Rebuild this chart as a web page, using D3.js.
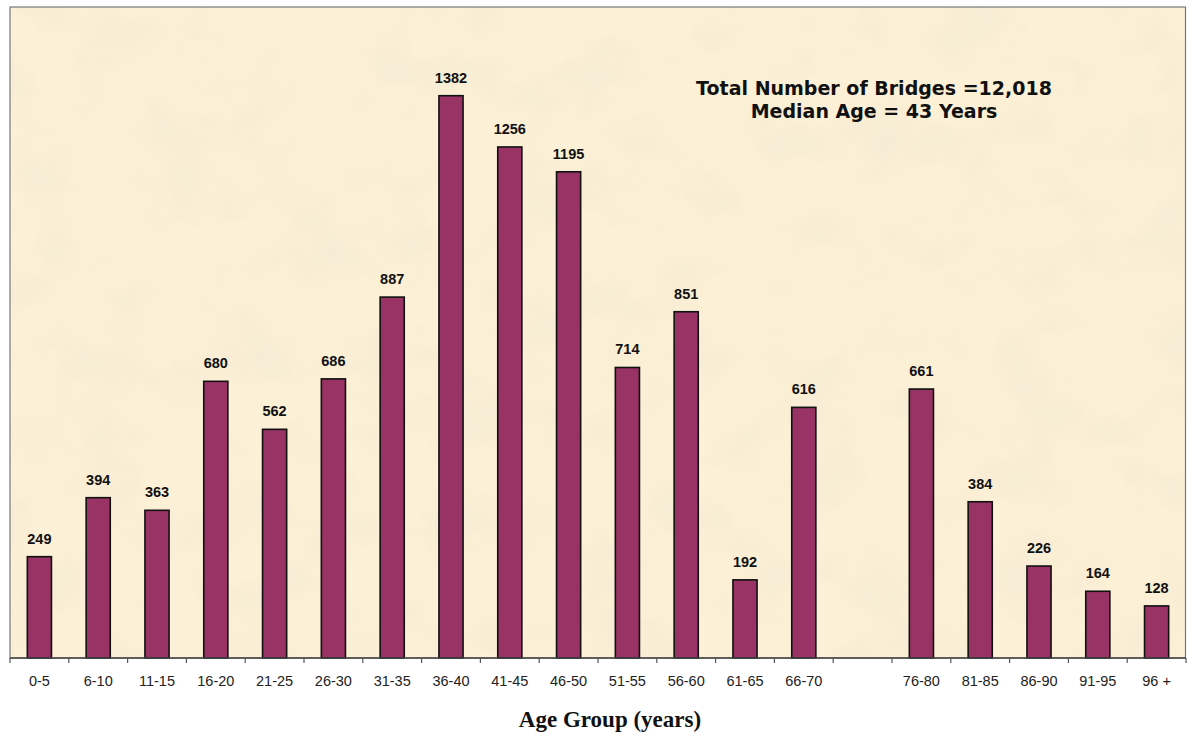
<!DOCTYPE html>
<html>
<head>
<meta charset="utf-8">
<script src="https://cdn.jsdelivr.net/npm/d3@7"></script>
<style>
  html, body { margin: 0; padding: 0; background: #fff; }
</style>
</head>
<body>
<div class="bar_chart"></div>
<script>
// age groups (the 71-75 slot is empty in the source chart)
const ageGroups = ["0-5", "6-10", "11-15", "16-20", "21-25", "26-30", "31-35", "36-40", "41-45", "46-50",
  "51-55", "56-60", "61-65", "66-70", "71-75", "76-80", "81-85", "86-90", "91-95", "96 +"];
const bridgeCounts = [249, 394, 363, 680, 562, 686, 887, 1382, 1256, 1195,
  714, 851, 192, 616, null, 661, 384, 226, 164, 128];
const hiddenLabels = ["71-75"];
const noteLines = ["Total Number of Bridges =12,018", "Median Age = 43 Years"];
const axisTitle = "Age Group (years)";

const width = 1187, height = 736;
const margin = { top: 7, right: 1, bottom: 78, left: 10 };

const svg = d3.select(".bar_chart").append("svg")
  .attr("width", width)
  .attr("height", height);

// parchment texture
const defs = svg.append("defs");
const filt = defs.append("filter").attr("id", "parchment")
  .attr("x", 0).attr("y", 0).attr("width", "100%").attr("height", "100%");
filt.append("feTurbulence")
  .attr("type", "fractalNoise")
  .attr("baseFrequency", "0.014 0.018")
  .attr("numOctaves", 4)
  .attr("seed", 7)
  .attr("result", "noise");
filt.append("feColorMatrix")
  .attr("in", "noise")
  .attr("type", "matrix")
  .attr("values", "0 0 0 0 0.92  0 0 0 0 0.83  0 0 0 0 0.66  0 0 0 2.2 -1.0")
  .attr("result", "spots");
filt.append("feComposite")
  .attr("in", "spots").attr("in2", "SourceGraphic").attr("operator", "in")
  .attr("result", "clipped");
filt.append("feMerge").selectAll("feMergeNode")
  .data(["SourceGraphic", "clipped"])
  .join("feMergeNode")
  .attr("in", d => d);

const x = d3.scaleBand()
  .domain(ageGroups)
  .range([margin.left, width - margin.right])
  .paddingInner(0.59)
  .paddingOuter(0.295);

const y = d3.scaleLinear()
  .domain([0, 1600])
  .range([height - margin.bottom, margin.top]);

// plot area
svg.append("rect")
  .attr("x", margin.left)
  .attr("y", margin.top)
  .attr("width", width - margin.left - margin.right)
  .attr("height", height - margin.top - margin.bottom)
  .attr("fill", "#fcf0d6")
  .attr("filter", "url(#parchment)");

svg.append("rect")
  .attr("x", margin.left)
  .attr("y", margin.top)
  .attr("width", width - margin.left - margin.right - 0.5)
  .attr("height", height - margin.top - margin.bottom)
  .attr("fill", "none")
  .attr("stroke", "#777")
  .attr("stroke-width", 1.2);

// bars
const data = ageGroups.map((g, i) => ({ group: g, value: bridgeCounts[i] }))
  .filter(d => d.value != null);

svg.append("g")
  .attr("fill", "#993366")
  .attr("stroke", "#111")
  .attr("stroke-width", 1.6)
  .selectAll("rect")
  .data(data)
  .join("rect")
  .attr("x", d => x(d.group))
  .attr("y", d => y(d.value))
  .attr("width", x.bandwidth())
  .attr("height", d => y(0) - y(d.value));

// value labels
svg.append("g")
  .attr("font-family", "Arial, 'Liberation Sans', sans-serif")
  .attr("font-size", 14.5)
  .attr("font-weight", "bold")
  .attr("text-anchor", "middle")
  .attr("fill", "#111")
  .selectAll("text")
  .data(data)
  .join("text")
  .attr("x", d => x(d.group) + x.bandwidth() / 2)
  .attr("y", d => y(d.value) - 13)
  .text(d => d.value);

// x axis with ticks at band boundaries
const step = x.step();
const boundaries = d3.range(ageGroups.length + 1).map(i => margin.left + i * step);
const axis = svg.append("g");
axis.append("line")
  .attr("x1", margin.left).attr("x2", width - margin.right)
  .attr("y1", y(0)).attr("y2", y(0))
  .attr("stroke", "#444").attr("stroke-width", 1.5);
axis.selectAll(".tick")
  .data(boundaries)
  .join("line")
  .attr("class", "tick")
  .attr("x1", d => d).attr("x2", d => d)
  .attr("y1", y(0)).attr("y2", y(0) + 5)
  .attr("stroke", "#555").attr("stroke-width", 1.2);
axis.selectAll("text")
  .data(ageGroups.filter(g => !hiddenLabels.includes(g)))
  .join("text")
  .attr("x", d => x(d) + x.bandwidth() / 2)
  .attr("y", y(0) + 28)
  .attr("text-anchor", "middle")
  .attr("font-family", "Arial, 'Liberation Sans', sans-serif")
  .attr("font-size", 14.5)
  .attr("fill", "#222")
  .text(d => d);

// axis title
svg.append("text")
  .attr("x", 610)
  .attr("y", 727)
  .attr("text-anchor", "middle")
  .attr("font-family", "'Times New Roman', 'Liberation Serif', serif")
  .attr("font-weight", "bold")
  .attr("font-size", 23)
  .attr("fill", "#111")
  .text(axisTitle);

// annotation
svg.append("text")
  .attr("x", 874)
  .attr("y", 95)
  .attr("text-anchor", "middle")
  .attr("font-family", "Verdana, 'DejaVu Sans', sans-serif")
  .attr("font-weight", "bold")
  .attr("font-size", 19)
  .attr("fill", "#111")
  .selectAll("tspan")
  .data(noteLines)
  .join("tspan")
  .attr("x", 874)
  .attr("dy", (_, i) => i ? 23 : 0)
  .text(d => d);
</script>
</body>
</html>
